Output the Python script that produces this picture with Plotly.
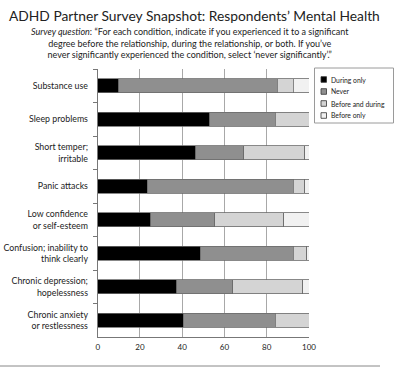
import plotly.graph_objects as go

categories = [
    "Substance use",
    "Sleep problems",
    "Short temper;<br>irritable",
    "Panic attacks",
    "Low confidence<br>or self-esteem",
    "Confusion; inability to<br>think clearly",
    "Chronic depression;<br>hopelessness",
    "Chronic anxiety<br>or restlessness",
]
during_only = [10, 53, 46.5, 23.5, 25, 48.5, 37.5, 40.5]
never = [75, 31, 22.5, 69, 30.5, 44, 26.5, 43.5]
before_and_during = [7.5, 16, 29, 5.5, 32.5, 6.5, 33, 16]
before_only = [7.5, 0, 2, 2, 12, 1, 3, 0]

series_names = ["During only", "Never", "Before and during", "Before only"]
series_values = [during_only, never, before_and_during, before_only]
series_colors = ["#000000", "#8f8f8f", "#d4d4d4", "#f1f1f1"]
x_ticks = [0, 20, 40, 60, 80, 100]

FONT = "Lato"
W, H = 400, 367

fig = go.Figure()
for name, vals, col in zip(series_names, series_values, series_colors):
    fig.add_trace(go.Bar(
        y=categories, x=vals, name=name, orientation="h",
        marker=dict(color=col, line=dict(color="#6a6a6a", width=0.8)),
        showlegend=False,
    ))

# manual compact legend
lx0, ly0 = 314.5 / W, 1 - 68 / H
lx1, ly1 = 393.5 / W, 1 - 123 / H
shapes = [dict(type="rect", xref="paper", yref="paper", x0=lx0, x1=lx1, y0=ly1, y1=ly0,
               line=dict(color="#9a9a9a", width=1), fillcolor="white")]
annotations = []
for i, (name, col) in enumerate(zip(series_names, series_colors)):
    yc = 79.5 + i * 12
    shapes.append(dict(type="rect", xref="paper", yref="paper",
                       x0=321 / W, x1=326.5 / W, y0=1 - (yc + 2.8) / H, y1=1 - (yc - 2.8) / H,
                       line=dict(color="#333333", width=0.8), fillcolor=col))
    annotations.append(dict(text=name, xref="paper", yref="paper", x=329 / W, y=1 - yc / H,
                            xanchor="left", yanchor="middle", showarrow=False,
                            font=dict(family=FONT, size=6.8, color="#222222")))

# bottom frame line
shapes.append(dict(type="line", xref="paper", yref="paper", x0=0, x1=380 / W,
                   y0=1 - 366 / H, y1=1 - 366 / H, line=dict(color="#888888", width=1)))

annotations.append(dict(
    text="ADHD Partner Survey Snapshot: Respondents\u2019 Mental Health",
    xref="paper", yref="paper", x=194 / W, y=1 - 15 / H, xanchor="center", yanchor="middle",
    showarrow=False, font=dict(family=FONT, size=13.8, color="#222222")))
annotations.append(dict(
    text="<i>Survey question</i>: \u201cFor each condition, indicate if you experienced it to a significant<br>"
         "degree before the relationship, during the relationship, or both. If you\u2019ve<br>"
         "never significantly experienced the condition, select \u2018never significantly\u2019.\u201d",
    xref="paper", yref="paper", x=190 / W, y=1 - 43 / H, xanchor="center", yanchor="middle",
    align="center", showarrow=False, font=dict(family=FONT, size=9.0, color="#222222")))

fig.update_layout(
    width=W, height=H, margin=dict(l=0, r=0, t=0, b=0),
    paper_bgcolor="white", plot_bgcolor="white",
    barmode="stack", bargap=0.57,
    shapes=shapes, annotations=annotations,
    xaxis=dict(domain=[97.7 / W, 309 / W], range=[0, 100], tickvals=x_ticks,
               showgrid=True, gridcolor="#a8a8a8", gridwidth=1, zeroline=False,
               showline=True, linecolor="#777777", linewidth=1,
               ticks="", ticklabelstandoff=2, automargin=False,
               tickfont=dict(family=FONT, size=8, color="#222222")),
    yaxis=dict(domain=[1 - 337 / H, 1 - 69 / H], autorange="reversed",
               showline=True, linecolor="#777777", linewidth=1,
               ticks="outside", tickson="boundaries", ticklen=4, tickcolor="#777777",
               ticklabelstandoff=7, automargin=False,
               showgrid=False, tickfont=dict(family=FONT, size=8.8, color="#222222")),
)

fig.write_html("out.html", config={"displayModeBar": False},
               post_script="document.body.style.margin='0';")
